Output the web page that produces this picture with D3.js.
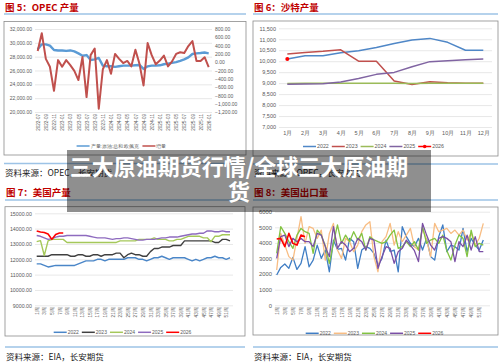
<!DOCTYPE html>
<html>
<head>
<meta charset="utf-8">
<script src="https://cdn.jsdelivr.net/npm/d3@7"></script>
<style>
  body { margin: 0; background: #fff; }
  svg { display: block; font-family: "Noto Sans CJK SC", "Noto Sans", sans-serif; }
</style>
</head>
<body>
<script>
// ---- data ----
// OPEC: monthly 2022-07 .. 2026-01
const opecMonths = d3.timeMonth.range(new Date(2022, 6, 1), new Date(2026, 1, 1)).map(d3.timeFormat('%Y-%m'));
const opecOutput = [29060, 29780, 29780, 29590, 28960, 28900, 28900, 28830, 28900, 28760, 28480, 28140, 28230, 27520, 27600, 27810, 26700, 26610, 26610, 26520, 26610, 26700, 26700, 26700, 26750, 26800, 26230, 26600, 26700, 26700, 26750, 26900, 27000, 27100, 27220, 27400, 27600, 27900, 28380, 28480, 28530, 28600, 28480];
const opecChange = [270, 700, 80, -110, -690, 50, -110, 50, -70, -210, -430, 125, -840, 170, 330, -1120, -170, 50, -280, 200, 80, -20, 30, -100, 300, -40, -560, 460, 170, -50, 40, 160, -100, 20, 200, 240, 220, 390, 510, 30, 30, 120, -120];
const opecLeftTicks = [20000, 22000, 24000, 26000, 28000, 30000, 32000];
const opecRightTicks = [-1200, -1000, -800, -600, -400, -200, 0, 200, 400, 600, 800];

// Saudi: by calendar month
const saudiMonths = ['1月', '2月', '3月', '4月', '5月', '6月', '7月', '8月', '9月', '10月', '11月', '12月'];
const saudi2022 = [10100, 10250, 10250, 10390, 10480, 10620, 10810, 10970, 11040, 10860, 10500, 10500];
const saudi2023 = [10330, 10400, 10450, 10520, 10000, 10000, 9100, 8940, 9060, 9020, 9000, 8990];
const saudi2024 = [8980, 8990, 8990, 9000, 9000, 9000, 9000, 8980, 8990, 8990, 8990, 8990];
const saudi2025 = [8950, 8960, 8970, 9050, 9210, 9400, 9490, 9750, 9980, 10020, 10070, 10100];
const saudi2026 = [10100];
const saudiTicks = [7000, 7500, 8000, 8500, 9000, 9500, 10000, 10500, 11000, 11500];

// US production: weekly
const usProd2022 = [11700, 11700, 11600, 11500, 11550, 11600, 11600, 11600, 11600, 11600, 11600, 11700, 11800, 11900, 11900, 11900, 12000, 12000, 11900, 12000, 12000, 12000, 12000, 12000, 12100, 12100, 12100, 12000, 12000, 11900, 12000, 12100, 12100, 12200, 12100, 12000, 12100, 12100, 12100, 12100, 12000, 11900, 12000, 11900, 12000, 12100, 12100, 12200, 12100, 12100, 12000, 12100];
const usProd2023 = [12200, 12200, 12200, 12200, 12300, 12300, 12300, 12300, 12300, 12200, 12200, 12300, 12300, 12200, 12200, 12300, 12300, 12200, 12300, 12300, 12300, 12400, 12400, 12100, 12300, 12400, 12300, 12300, 12200, 12200, 12500, 12700, 12700, 12800, 12800, 12800, 12900, 12900, 12900, 13200, 13200, 13200, 13200, 13200, 13200, 13200, 13200, 13100, 13100, 13300, 13300, 13200];
const usProd2024 = [13150, 13220, 12250, 13200, 13300, 13300, 13300, 13300, 13100, 13100, 13100, 13100, 13100, 13100, 13100, 13100, 13100, 13100, 13100, 13100, 13100, 13100, 13200, 13200, 13200, 13200, 13200, 13300, 13300, 13300, 13300, 13400, 13300, 13300, 13300, 13200, 13200, 13300, 13300, 13400, 13500, 13500, 13500, 13500, 13400, 13400, 13150, 13500, 13500, 13600, 13600, 13600];
const usProd2025 = [13550, 13500, 13400, 13300, 13350, 13450, 13500, 13500, 13550, 13550, 13550, 13550, 13550, 13550, 13500, 13450, 13400, 13400, 13400, 13350, 13300, 13350, 13350, 13400, 13400, 13350, 13300, 13250, 13250, 13300, 13300, 13300, 13350, 13400, 13400, 13450, 13450, 13450, 13500, 13550, 13600, 13650, 13650, 13700, 13700, 13850, 13850, 13800, 13800, 13850, 13800, 13800];
const usProd2026 = [13840, 13780, 13750, 13650, 13300, 13620, 13720, 13720];
const usProdTicks = [9000, 10000, 11000, 12000, 13000, 14000, 15000];

// US exports: weekly
const usExp2022 = [1940, 2430, 2650, 2370, 3070, 2300, 2690, 3760, 2470, 2900, 3860, 3010, 3540, 2150, 4180, 3580, 3650, 2900, 4290, 4080, 2370, 3540, 3760, 3650, 3330, 2580, 3010, 4180, 3440, 3540, 2150, 5040, 4400, 3970, 3760, 4290, 3540, 4290, 3120, 2900, 4400, 5150, 3440, 3860, 3760, 3540, 4930, 3440, 4290, 3860, 3540, 4180];
const usExp2023 = [2260, 4610, 3860, 3120, 2900, 4290, 5680, 3970, 5040, 4930, 4290, 4820, 2900, 4610, 5250, 3540, 3010, 4290, 4080, 3440, 3860, 4720, 5150, 5360, 3120, 2150, 4080, 4400, 5250, 3860, 4720, 4080, 4500, 4930, 3760, 3540, 4930, 4200, 3120, 5250, 4720, 4820, 4930, 4610, 4820, 4500, 4820, 4180, 4610, 3860, 4300, 5250];
const usExp2024 = [3330, 5040, 4610, 4080, 3650, 4500, 4930, 4720, 4610, 3330, 4820, 4500, 3800, 2690, 3970, 5150, 3970, 4500, 4080, 4720, 4180, 4610, 3540, 4400, 4200, 4080, 3970, 4080, 4500, 4820, 3650, 3760, 4080, 3760, 4080, 3540, 5040, 3970, 4180, 4290, 3970, 4500, 3500, 2900, 3860, 4500, 4290, 3120, 4820, 3760, 3970, 3860];
const usExp2025 = [3010, 4400, 4500, 3760, 4290, 4080, 4290, 4080, 4080, 3760, 4610, 4500, 3760, 3120, 5040, 3650, 4080, 3860, 3440, 3650, 4290, 4080, 3540, 4290, 4180, 2370, 3120, 3760, 3650, 2690, 3440, 3650, 4180, 3860, 3500, 2800, 5250, 4500, 3860, 3540, 4290, 4400, 4290, 4080, 2800, 4080, 3760, 4500, 3540, 4400, 3440, 3440];
const usExp2026 = [4250, 4290, 3760, 4610, 3970, 3860, 4500, 4400];
const usExpTicks = [0, 1000, 2000, 3000, 4000, 5000, 6000];

const weeks = d3.range(1, 53);
const weekTicks = weeks.filter(w => w % 2 === 1);

// ---- drawing ----
const svg = d3.select('body').append('svg').attr('width', 500).attr('height', 363);
svg.append('rect').attr('width', 500).attr('height', 363).attr('fill', '#fff');

const titleRed = '#c00000';
const sepBlue = '#9dc3e6';
const gridGray = '#d9d9d9';
const tickGray = '#595959';
const numFont = '"Liberation Sans", Arial, sans-serif';

function frame(p) {
  svg.append('text').attr('x', p.x0 + 1).attr('y', p.titleY).text(p.title)
    .attr('fill', titleRed).attr('font-size', 9.5).attr('font-weight', 700);
  svg.append('line').attr('x1', p.x0).attr('x2', p.x1).attr('y1', p.sepY).attr('y2', p.sepY)
    .attr('stroke', sepBlue).attr('stroke-width', 1.5);
  svg.append('rect').attr('x', p.x0).attr('y', p.boxTop).attr('width', p.x1 - p.x0).attr('height', p.boxBot - p.boxTop)
    .attr('fill', 'none').attr('stroke', '#8c8c8c').attr('stroke-width', 0.8);
  svg.append('line').attr('x1', p.x0).attr('x2', p.x1).attr('y1', p.srcSepY).attr('y2', p.srcSepY)
    .attr('stroke', sepBlue).attr('stroke-width', 1.5);
  svg.append('text').attr('x', p.x0 + 1).attr('y', p.srcY).text(p.src)
    .attr('fill', '#222').attr('font-size', 8.5);
}

function yAxis(scale, x0, x1, ticks, fmt, fs) {
  svg.append('g').attr('transform', `translate(${x0},0)`)
    .call(d3.axisLeft(scale).tickValues(ticks).tickSize(-(x1 - x0)).tickPadding(3).tickFormat(fmt))
    .call(a => {
      a.select('.domain').remove();
      a.selectAll('line').attr('stroke', gridGray).attr('stroke-width', 0.6);
      a.selectAll('text').attr('fill', tickGray).attr('font-size', fs).attr('font-family', numFont);
    });
}

function xAxisRotated(scale, y, ticks, fmt, fs) {
  svg.append('g').attr('transform', `translate(0,${y})`)
    .call(d3.axisBottom(scale).tickValues(ticks).tickSize(0).tickFormat(fmt))
    .call(a => {
      a.select('.domain').remove();
      a.selectAll('text')
        .attr('x', -2).attr('y', 0).attr('dy', '0.35em')
        .attr('transform', 'rotate(-90)')
        .attr('text-anchor', 'end')
        .attr('fill', tickGray).attr('font-size', fs).attr('font-family', numFont);
    });
}

function legend(cx, y, items, fs) {
  const g = svg.append('g');
  let x = 0;
  items.forEach(it => {
    g.append('line').attr('x1', x).attr('x2', x + 13).attr('y1', y).attr('y2', y)
      .attr('stroke', it.color).attr('stroke-width', 1.5);
    if (it.marker) g.append('circle').attr('cx', x + 6.5).attr('cy', y).attr('r', 1.8).attr('fill', it.color);
    const t = g.append('text').attr('x', x + 14).attr('y', y).attr('dy', '0.35em')
      .attr('font-size', fs).attr('fill', tickGray).attr('font-family', numFont).text(it.name);
    x += 14 + t.node().getComputedTextLength() + 3;
  });
  g.attr('transform', `translate(${cx - x / 2},0)`);
}

function series(x, y, data, color, w) {
  svg.append('path').datum(data)
    .attr('fill', 'none').attr('stroke', color).attr('stroke-width', w)
    .attr('stroke-linejoin', 'round')
    .attr('d', d3.line().x((d, i) => x(i)).y(d => y(d)));
}

// ---------- 图5 OPEC ----------
frame({ x0: 4, x1: 246, title: '图 5：OPEC 产量', titleY: 10.5, sepY: 14, boxTop: 21.5, boxBot: 155,
  srcSepY: 163.5, srcY: 176, src: '资料来源：OPEC，长安期货' });
{
  const xp = d3.scalePoint().domain(opecMonths).range([37.7, 208.7]);
  const xi = i => xp(opecMonths[i]);
  const yL = d3.scaleLinear().domain([20000, 32000]).range([112, 29]);
  const yR = d3.scaleLinear().domain([-1200, 800]).range([112, 29]);
  yAxis(yL, 35, 212, opecLeftTicks, d3.format(',.2f'), 5);
  svg.append('g').attr('transform', 'translate(212,0)')
    .call(d3.axisRight(yR).tickValues(opecRightTicks).tickSize(0).tickPadding(3).tickFormat(d3.format(',.2f')))
    .call(a => {
      a.select('.domain').remove();
      a.selectAll('text').attr('fill', tickGray).attr('font-size', 5).attr('font-family', numFont);
    });
  xAxisRotated(xp, 112, opecMonths.filter((d, i) => i % 2 === 0), d => d, 4.6);
  series(xi, yL, opecOutput, '#5b9bd5', 2.4);
  series(xi, yR, opecChange, '#c0504d', 2);
  legend(123, 146, [
    { name: '产量:原油:总和:欧佩克', color: '#5b9bd5' },
    { name: '增量', color: '#c0504d' }
  ], 4.6);
}

// ---------- 图6 沙特 ----------
frame({ x0: 253, x1: 498, title: '图 6：沙特产量', titleY: 10.5, sepY: 14, boxTop: 21, boxBot: 156,
  srcSepY: 164, srcY: 176, src: '资料来源：OPEC，长安期货' });
{
  const xp = d3.scalePoint().domain(saudiMonths).range([278.4, 492.2]).padding(0.5);
  const xi = i => xp(saudiMonths[i]);
  const y = d3.scaleLinear().domain([7000, 11500]).range([127, 28.3]);
  yAxis(y, 279, 492, saudiTicks, d3.format(','), 5.5);
  svg.append('g').attr('transform', 'translate(0,127)')
    .call(d3.axisBottom(xp).tickSize(0).tickPadding(4))
    .call(a => {
      a.select('.domain').remove();
      a.selectAll('text').attr('fill', tickGray).attr('font-size', 5.5);
    });
  series(xi, y, saudi2022, '#4f87c7', 1.5);
  series(xi, y, saudi2023, '#c0504d', 1.5);
  series(xi, y, saudi2024, '#9bbb59', 1.5);
  series(xi, y, saudi2025, '#8064a2', 1.5);
  svg.selectAll('circle.s26').data(saudi2026).join('circle').attr('class', 's26')
    .attr('cx', (d, i) => xi(i)).attr('cy', d => y(d)).attr('r', 2).attr('fill', '#ff0000');
  legend(375, 146.5, [
    { name: '2022', color: '#4f87c7' },
    { name: '2023', color: '#c0504d' },
    { name: '2024', color: '#9bbb59' },
    { name: '2025', color: '#8064a2' },
    { name: '2026', color: '#ff0000', marker: true }
  ], 5.3);
}

// ---------- 图7 美国产量 ----------
frame({ x0: 5, x1: 245, title: '图 7：美国产量', titleY: 195.5, sepY: 200, boxTop: 206.7, boxBot: 336,
  srcSepY: 347, srcY: 360, src: '资料来源：EIA，长安期货' });
{
  const x = d3.scaleLinear().domain([1, 52]).range([36.7, 230]);
  const xi = i => x(i + 1);
  const y = d3.scaleLinear().domain([9000, 15000]).range([305.3, 213.3]);
  yAxis(y, 35, 233, usProdTicks, d3.format('.2f'), 5.3);
  xAxisRotated(x, 305.3, weekTicks, d => d + '周', 4.6);
  series(xi, y, usProd2022, '#4a86c8', 1.4);
  series(xi, y, usProd2023, '#404040', 1.4);
  series(xi, y, usProd2024, '#a5c85a', 1.4);
  series(xi, y, usProd2025, '#8e6bbf', 1.4);
  series(xi, y, usProd2026, '#ff0000', 1.6);
  legend(124, 332.3, [
    { name: '2022', color: '#4a86c8' },
    { name: '2023', color: '#404040' },
    { name: '2024', color: '#a5c85a' },
    { name: '2025', color: '#8e6bbf' },
    { name: '2026', color: '#ff0000' }
  ], 5);
}

// ---------- 图8 美国出口量 ----------
frame({ x0: 253, x1: 498, title: '图 8：美国出口量', titleY: 195.5, sepY: 200, boxTop: 207, boxBot: 335,
  srcSepY: 347, srcY: 360, src: '资料来源：EIA，长安期货' });
{
  const x = d3.scaleLinear().domain([1, 52]).range([276.7, 483.3]);
  const xi = i => x(i + 1);
  const y = d3.scaleLinear().domain([0, 6000]).range([305.3, 211.7]);
  yAxis(y, 275, 490, usExpTicks, d3.format('d'), 5.8);
  xAxisRotated(x, 305.3, weekTicks, d => d + '周', 4.6);
  series(xi, y, usExp2022, '#3f7dc4', 1.3);
  series(xi, y, usExp2023, '#f8bd83', 1.3);
  series(xi, y, usExp2024, '#82c341', 1.3);
  series(xi, y, usExp2025, '#7a4fa5', 1.3);
  series(xi, y, usExp2026, '#ff0000', 1.6);
  legend(376, 333.3, [
    { name: '2022', color: '#3f7dc4' },
    { name: '2023', color: '#f8bd83' },
    { name: '2024', color: '#82c341' },
    { name: '2025', color: '#7a4fa5' },
    { name: '2026', color: '#ff0000' }
  ], 5);
}

// ---------- headline overlay ----------
svg.append('rect').attr('x', 67).attr('y', 150).attr('width', 364).attr('height', 62)
  .attr('fill', 'rgba(0,0,0,0.44)');
const headline = svg.append('text').attr('text-anchor', 'middle').attr('fill', '#fff')
  .attr('font-size', 22).attr('font-weight', 700);
headline.append('tspan').attr('x', 239).attr('y', 174.5).text('三大原油期货行情/全球三大原油期');
headline.append('tspan').attr('x', 239).attr('y', 199.5).text('货');
</script>
</body>
</html>
